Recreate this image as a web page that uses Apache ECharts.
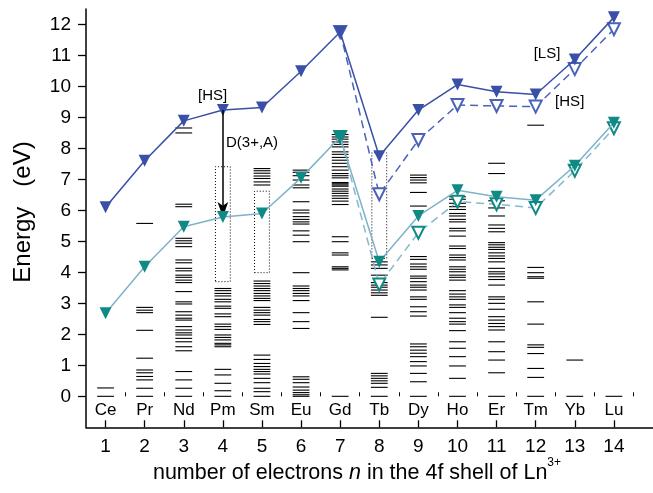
<!DOCTYPE html>
<html>
<head>
<meta charset="utf-8">
<script src="https://cdn.jsdelivr.net/npm/echarts@6/dist/echarts.min.js"></script>
<style>
  html, body { margin: 0; padding: 0; background: #fff; }
  #chart { width: 653px; height: 493px; }
</style>
</head>
<body>
<div id="chart"></div>
<script>
// number of 4f electrons and the lanthanide for each column
const nValues = [1, 2, 3, 4, 5, 6, 7, 8, 9, 10, 11, 12, 13, 14];
const elements = ['Ce', 'Pr', 'Nd', 'Pm', 'Sm', 'Eu', 'Gd', 'Tb', 'Dy', 'Ho', 'Er', 'Tm', 'Yb', 'Lu'];

// upper curve: solid (all n) and dashed (n = 7..14)
const upperSolid = [6.10, 7.60, 8.89, 9.24, 9.32, 10.49, 11.76, 7.75, 9.24, 10.06, 9.83, 9.74, 10.87, 12.23];
const upperDashedN = [7, 8, 9, 10, 11, 12, 13, 14];
const upperDashed = [11.76, 6.52, 8.27, 9.40, 9.37, 9.35, 10.56, 11.85];

// lower curve: solid (all n) and dashed (n = 7..14)
const lowerSolid = [2.68, 4.18, 5.47, 5.79, 5.90, 7.05, 8.37, 4.34, 5.82, 6.65, 6.44, 6.33, 7.44, 8.83];
const lowerDashedN = [7, 8, 9, 10, 11, 12, 13, 14];
const lowerDashed = [8.37, 3.61, 5.28, 6.28, 6.20, 6.08, 7.28, 8.65];

// 4f^n free-ion energy levels (eV)
const levelsCe = [0, 0.27];
const levelsPr = [0, 0.26, 0.53, 0.64, 0.76, 0.85, 1.23, 2.13, 2.70, 2.78, 2.87, 5.58];
const levelsNd = [0, 0.26, 0.53, 0.80, 1.47, 1.60, 1.76, 1.87, 1.98, 2.05, 2.14, 2.25, 2.46, 2.52, 2.62, 2.73,
  2.98, 3.05, 3.38, 3.67, 3.75, 3.84, 3.91, 4.05, 4.13, 4.31, 4.40, 4.83, 4.94, 5.02, 5.10, 6.12, 6.20, 8.50, 8.66];
const levelsPm = [0, 0.18, 0.42, 0.69, 0.87, 1.60, 1.66, 1.71, 1.82, 1.90, 1.98, 2.16, 2.25, 2.33, 2.57, 2.66,
  2.84, 2.91, 3.05, 3.13, 3.24, 3.32, 3.41, 3.48];
const levelsSm = [0, 0.15, 0.26, 0.44, 0.58, 0.72, 0.80, 0.87, 0.96, 1.06, 1.19, 1.33, 2.32, 2.41, 2.48, 2.62,
  2.70, 2.78, 2.87, 3.09, 3.16, 3.24, 3.32, 3.41, 3.48, 3.56, 3.64, 3.72, 6.82, 6.92, 7.03, 7.11, 7.20, 7.28, 7.35];
const levelsEu = [0, 0.05, 0.12, 0.20, 0.30, 0.44, 0.55, 0.63, 2.19, 2.41, 2.70, 3.09, 3.24, 3.32, 3.41, 3.48,
  3.56, 3.99, 4.99, 5.20, 5.34, 5.56, 5.63, 5.71, 5.80, 5.92, 6.01, 6.28, 6.73, 6.82, 6.98, 7.12, 7.23, 7.30];
const levelsGd = [0, 4.08, 4.13, 4.18, 4.56, 4.63, 4.99, 5.15, 6.19, 6.30, 6.39, 6.47, 6.55, 6.62, 6.69, 6.78,
  6.82, 6.86, 6.90, 7.05, 7.12, 7.19, 7.30, 7.41, 7.52, 7.62, 7.71, 7.81, 7.89, 8.05, 8.13, 8.21, 8.30, 8.37, 8.45];
const levelsTb = [0, 0.29, 0.42, 0.50, 0.58, 0.66, 0.74, 2.55, 3.26, 3.34, 3.43, 3.52, 3.59, 3.67, 3.91, 4.13, 4.24, 4.34];
const levelsDy = [0, 0.47, 0.74, 0.98, 1.12, 1.28, 1.39, 1.49, 1.60, 1.69, 2.59, 2.73, 2.89, 3.13, 3.21, 3.43,
  3.52, 3.59, 3.70, 3.81, 3.88, 4.10, 4.18, 4.27, 4.42, 4.51, 6.14, 6.58, 6.89, 6.98, 7.06, 7.14];
const levelsHo = [0, 0.58, 0.98, 1.28, 1.55, 1.76, 2.12, 2.33, 2.41, 2.52, 2.70, 2.87, 2.95, 3.13, 3.21, 3.30,
  3.41, 3.75, 3.84, 3.91, 4.02, 4.10, 4.18, 4.40, 4.48, 4.56, 4.77, 4.85, 5.17, 5.34, 5.42, 5.63, 5.71, 5.82,
  5.90, 6.03, 6.12, 6.23, 6.36, 6.44];
const levelsEr = [0, 0.76, 1.17, 1.44, 1.76, 2.14, 2.25, 2.35, 2.46, 2.57, 2.81, 3.00, 3.13, 3.21, 3.59, 3.77,
  3.86, 3.95, 4.02, 4.13, 4.34, 4.45, 4.53, 4.63, 4.74, 4.81, 4.89, 4.96, 5.31, 5.42, 5.53, 5.82, 6.08, 6.31, 7.19, 7.52];
const levelsTm = [0, 0.61, 0.90, 1.38, 1.58, 1.66, 2.33, 3.05, 3.81, 3.86, 3.99, 4.16, 8.75];
const levelsYb = [0, 1.17];
const levelsLu = [0];

const levelSets = [levelsCe, levelsPr, levelsNd, levelsPm, levelsSm, levelsEu, levelsGd,
  levelsTb, levelsDy, levelsHo, levelsEr, levelsTm, levelsYb, levelsLu];

// dotted windows: [n, lower energy, upper energy]
const windows = [[4, 3.70, 7.41], [5, 3.99, 6.62], [8, 4.45, 7.86]];

// text annotations: [n, energy, text, alignment]
const notes = [[3.74, 9.70, '[HS]', 'center'], [12.29, 11.06, '[LS]', 'center'],
  [12.87, 9.50, '[HS]', 'center'], [4.08, 8.17, 'D(3+,A)', 'left']];

const FONT = '"Liberation Sans", Arial, Helvetica, sans-serif';
const BLUE = '#3a4fa7';
const BLUE_DASH = '#4a62b8';
const TEAL = '#0f8a84';
const TEAL_LINE = '#7db3c9';
const TEAL_DASH = '#86b9cd';

const pairs = (xs, ys) => xs.map((x, i) => [x, ys[i]]);
const levelData = [];
levelSets.forEach((set, i) => set.forEach(e => levelData.push([nValues[i], e])));

const chart = echarts.init(document.getElementById('chart'), null, { renderer: 'canvas' });

const downTri = { symbol: 'triangle', symbolRotate: 180, symbolSize: 12 };

// plain black text placed at a data coordinate
function textSeries(data, size) {
  return {
    type: 'custom', silent: true, z: 6, clip: false,
    data: data,
    renderItem: (params, api) => {
      const d = data[params.dataIndex];
      const p = api.coord([d[0], d[1]]);
      return {
        type: 'text', x: p[0], y: p[1],
        style: { text: d[2], fill: '#000', fontSize: size, fontFamily: FONT,
          align: d[3] || 'center', verticalAlign: 'middle' }
      };
    }
  };
}

chart.setOption({
  animation: false,
  backgroundColor: '#fff',
  grid: { left: 86, top: 9, width: 569, height: 418.3, containLabel: false },
  xAxis: [{
    type: 'value', min: 0.5, max: 15, position: 'bottom',
    axisLine: { show: true, onZero: false, lineStyle: { color: '#000', width: 1.5 } },
    axisTick: { show: true, inside: true, length: 7, lineStyle: { color: '#000', width: 1.3 },
      customValues: nValues },
    axisLabel: { show: true, customValues: nValues, margin: 10, fontSize: 19, fontFamily: FONT, color: '#000' },
    splitLine: { show: false }
  }, {
    type: 'value', min: 0.5, max: 15, position: 'bottom',
    axisLine: { show: false },
    axisTick: { show: true, inside: true, length: 4, lineStyle: { color: '#000', width: 1 },
      customValues: nValues.map(n => n + 0.5) },
    axisLabel: { show: false },
    splitLine: { show: false }
  }],
  yAxis: {
    type: 'value', min: -1, max: 12.5, interval: 1,
    axisLine: { show: true, onZero: false, lineStyle: { color: '#000', width: 1.5 } },
    axisTick: { show: true, inside: false, length: 8, lineStyle: { color: '#000', width: 1.3 },
      customValues: [0, 1, 2, 3, 4, 5, 6, 7, 8, 9, 10, 11, 12] },
    axisLabel: { customValues: [0, 1, 2, 3, 4, 5, 6, 7, 8, 9, 10, 11, 12], margin: 15, fontSize: 19,
      fontFamily: FONT, color: '#000' },
    splitLine: { show: false }
  },
  graphic: [{
    type: 'text', x: 23, y: 212, rotation: Math.PI / 2,
    style: { text: 'Energy   (eV)', fontSize: 24, fontFamily: FONT, fill: '#000', align: 'center', verticalAlign: 'middle' }
  }, {
    type: 'text', x: 357, y: 473,
    style: {
      text: 'number of electrons {i|n} in the 4f shell of Ln{sup|3+}',
      align: 'center', verticalAlign: 'middle', fill: '#000',
      fontSize: 21.5, fontFamily: FONT,
      rich: {
        i: { fontSize: 21.5, fontFamily: FONT, fontStyle: 'italic', fill: '#000' },
        sup: { fontSize: 12, fontFamily: FONT, fill: '#000', verticalAlign: 'top', lineHeight: 32 }
      }
    }
  }],
  series: [
    {
      // energy levels of each ion
      type: 'custom', silent: true, z: 1,
      data: levelData,
      renderItem: (params, api) => {
        const n = api.value(0), e = api.value(1);
        const a = api.coord([n - 0.215, e]);
        const b = api.coord([n + 0.215, e]);
        return { type: 'line', shape: { x1: a[0], y1: a[1], x2: b[0], y2: b[1] },
          style: { stroke: '#000', lineWidth: 1.1 } };
      },
      markArea: {
        silent: true,
        itemStyle: { color: 'rgba(0,0,0,0)', borderColor: '#000', borderWidth: 1, borderType: [1, 2] },
        data: windows.map(w => [{ coord: [w[0] - 0.19, w[1]] }, { coord: [w[0] + 0.19, w[2]] }])
      }
    },
    // element symbols under each column
    textSeries(nValues.map((n, i) => [n, -0.44, elements[i], 'center']), 17),
    {
      type: 'line', name: 'upper dashed', z: 3,
      data: pairs(upperDashedN, upperDashed),
      symbol: 'emptyTriangle', symbolRotate: 180, symbolSize: 12, showAllSymbol: true,
      lineStyle: { color: BLUE_DASH, width: 1.5, type: [8, 5] },
      itemStyle: { color: BLUE_DASH, borderColor: BLUE_DASH, borderWidth: 1.2 }
    },
    {
      type: 'line', name: 'lower dashed', z: 3,
      data: pairs(lowerDashedN, lowerDashed),
      symbol: 'emptyTriangle', symbolRotate: 180, symbolSize: 12, showAllSymbol: true,
      lineStyle: { color: TEAL_DASH, width: 1.5, type: [8, 5] },
      itemStyle: { color: TEAL, borderColor: TEAL, borderWidth: 1.2 }
    },
    {
      type: 'line', name: 'upper solid', z: 4, ...downTri, showAllSymbol: true,
      data: pairs(nValues, upperSolid),
      lineStyle: { color: BLUE, width: 1.5 },
      itemStyle: { color: BLUE },
      markLine: {
        silent: true, symbol: ['none', 'arrow'], symbolSize: [8, 15],
        lineStyle: { color: '#000', width: 1.5, type: 'solid' },
        label: { show: false },
        data: [[{ coord: [nValues[3], upperSolid[3]] }, { coord: [nValues[3], lowerSolid[3]] }]]
      }
    },
    {
      type: 'line', name: 'lower solid', z: 5, ...downTri, showAllSymbol: true,
      data: pairs(nValues, lowerSolid),
      lineStyle: { color: TEAL_LINE, width: 1.5 },
      itemStyle: { color: TEAL }
    },
    // text annotations
    textSeries(notes, 15)
  ]
});
</script>
</body>
</html>
